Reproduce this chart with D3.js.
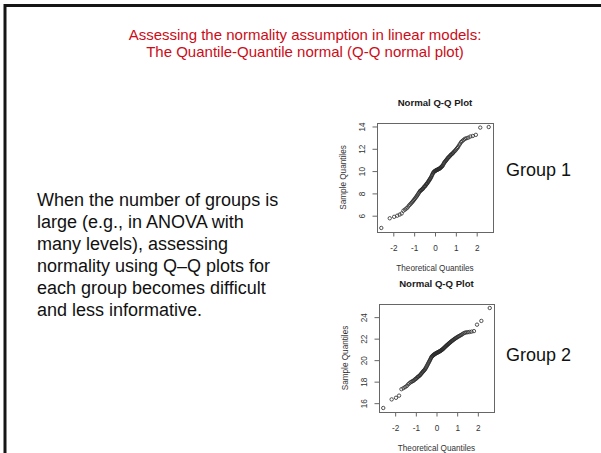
<!DOCTYPE html>
<html>
<head>
<meta charset="utf-8">
<script src="https://cdn.jsdelivr.net/npm/d3@7"></script>
<style>
  html, body { margin: 0; padding: 0; background: #fff; }
  svg { display: block; font-family: "Liberation Sans", Arial, Helvetica, sans-serif; }
</style>
</head>
<body>
<svg id="slide" width="601" height="453"></svg>
<script>
// slide text
const titleLines = [
  'Assessing the normality assumption in linear models:',
  'The Quantile-Quantile normal (Q-Q normal plot)'
];
const bodyLines = [
  'When the number of groups is',
  'large (e.g., in ANOVA with',
  'many levels), assessing',
  'normality using Q\u2013Q plots for',
  'each group becomes difficult',
  'and less informative.'
];
const groupNames = ['Group 1', 'Group 2'];

// axis ticks
const theoreticalTicks = [-2, -1, 0, 1, 2];
const group1Ticks = [6, 8, 10, 12, 14];
const group2Ticks = [16, 18, 20, 22, 24];

// sorted sample values (n = 100)
const group1Sample = [
  4.9, 5.77, 5.9, 6.0, 6.1, 6.2, 6.45, 6.55, 6.65, 6.75,
  6.9, 7.0, 7.1, 7.2, 7.3, 7.4, 7.5, 7.6, 7.7, 7.8,
  7.9, 8.0, 8.1, 8.2, 8.25, 8.3, 8.35, 8.4, 8.45, 8.55,
  8.6, 8.65, 8.7, 8.8, 8.85, 8.9, 9.0, 9.05, 9.15, 9.2,
  9.3, 9.35, 9.45, 9.55, 9.65, 9.75, 9.85, 9.9, 9.95, 10.0,
  10.02, 10.05, 10.08, 10.1, 10.12, 10.15, 10.18, 10.2, 10.22, 10.25,
  10.3, 10.35, 10.4, 10.45, 10.5, 10.6, 10.7, 10.78, 10.85, 10.9,
  10.98, 11.05, 11.12, 11.2, 11.25, 11.3, 11.38, 11.45, 11.5, 11.55,
  11.62, 11.7, 11.78, 11.85, 11.95, 12.05, 12.15, 12.3, 12.45, 12.6,
  12.7, 12.8, 12.9, 12.95, 13.0, 13.1, 13.15, 13.25, 13.9, 13.95
];
const group2Sample = [
  15.55, 16.35, 16.5, 16.7, 17.3, 17.4, 17.5, 17.6, 17.75, 17.85,
  17.95, 18.0, 18.05, 18.1, 18.18, 18.25, 18.3, 18.38, 18.45, 18.5,
  18.55, 18.62, 18.7, 18.78, 18.85, 18.92, 19.0, 19.05, 19.12, 19.2,
  19.3, 19.4, 19.5, 19.6, 19.7, 19.8, 19.9, 20.0, 20.1, 20.2,
  20.3, 20.35, 20.4, 20.45, 20.5, 20.52, 20.55, 20.6, 20.62, 20.65,
  20.68, 20.7, 20.72, 20.75, 20.78, 20.8, 20.83, 20.86, 20.9, 20.93,
  20.97, 21.0, 21.05, 21.1, 21.15, 21.2, 21.25, 21.3, 21.35, 21.4,
  21.45, 21.5, 21.55, 21.6, 21.65, 21.7, 21.75, 21.8, 21.85, 21.9,
  21.95, 22.0, 22.05, 22.1, 22.15, 22.2, 22.25, 22.3, 22.35, 22.42,
  22.5, 22.55, 22.58, 22.6, 22.62, 22.65, 22.7, 23.3, 23.65, 24.85
];

// inverse normal CDF (Acklam), used for the theoretical quantiles like qqnorm
function qnorm(p) {
  const a = [-39.69683028665376, 220.9460984245205, -275.9285104469687, 138.3577518672690, -30.66479806614716, 2.506628277459239];
  const b = [-54.47609879822406, 161.5858368580409, -155.6989798598866, 66.80131188771972, -13.28068155288572];
  const c = [-0.007784894002430293, -0.3223964580411365, -2.400758277161838, -2.549732539343734, 4.374664141464968, 2.938163982698783];
  const d = [0.007784695709041462, 0.3224671290700398, 2.445134137142996, 3.754408661907416];
  const tail = q => (((((c[0]*q + c[1])*q + c[2])*q + c[3])*q + c[4])*q + c[5]) /
                    ((((d[0]*q + d[1])*q + d[2])*q + d[3])*q + 1);
  if (p < 0.02425) return tail(Math.sqrt(-2 * Math.log(p)));
  if (p > 1 - 0.02425) return -tail(Math.sqrt(-2 * Math.log(1 - p)));
  const q = p - 0.5, r = q * q;
  return (((((a[0]*r + a[1])*r + a[2])*r + a[3])*r + a[4])*r + a[5]) * q /
         (((((b[0]*r + b[1])*r + b[2])*r + b[3])*r + b[4])*r + 1);
}

// R-style range: data range extended by 4% on each side
function rRange(values) {
  const [lo, hi] = d3.extent(values);
  const pad = (hi - lo) * 0.04;
  return [lo - pad, hi + pad];
}

const svg = d3.select('#slide');
const font = '"Liberation Sans", Arial, Helvetica, sans-serif';

svg.append('rect').attr('width', 601).attr('height', 453).attr('fill', '#fff');

// slide frame (top and left edges visible)
svg.append('path')
  .attr('d', 'M5,453V5.5H601')
  .attr('fill', 'none')
  .attr('stroke', '#161616')
  .attr('stroke-width', 3);

svg.append('g').selectAll('text')
  .data(titleLines)
  .enter()
  .append('text')
  .attr('x', 305)
  .attr('y', (d, i) => 39.5 + i * 17.5)
  .attr('text-anchor', 'middle')
  .attr('font-size', 15)
  .attr('fill', '#cc0c17')
  .text(d => d);

svg.append('g').selectAll('text')
  .data(bodyLines)
  .enter()
  .append('text')
  .attr('x', 37)
  .attr('y', (d, i) => 206 + i * 22)
  .attr('font-size', 18)
  .attr('fill', '#111')
  .text(d => d);

const plots = [
  { sample: group1Sample, ticks: group1Ticks, left: 377, top: 123, width: 116, height: 109, labelY: 176 },
  { sample: group2Sample, ticks: group2Ticks, left: 379, top: 304, width: 115, height: 108, labelY: 361 }
];

plots.forEach((p, k) => {
  const n = p.sample.length;
  const theoretical = p.sample.map((v, i) => qnorm((i + 1 - 0.5) / n));

  const x = d3.scaleLinear().domain(rRange(theoretical)).range([0, p.width]);
  const y = d3.scaleLinear().domain(rRange(p.sample)).range([p.height, 0]);

  const g = svg.append('g')
    .attr('transform', `translate(${p.left},${p.top})`)
    .attr('font-family', font);

  const xAxis = g.append('g')
    .attr('transform', `translate(0,${p.height})`)
    .call(d3.axisBottom(x).tickValues(theoreticalTicks).tickSize(4.5).tickFormat(d => String(d)));
  xAxis.select('.domain').remove();
  xAxis.selectAll('line').attr('stroke', '#666');
  xAxis.selectAll('text')
    .attr('y', 19).attr('dy', 0)
    .attr('font-size', 8.2).attr('fill', '#333')
    .attr('font-family', font);

  const yAxis = g.append('g')
    .call(d3.axisLeft(y).tickValues(p.ticks).tickSize(4.5).tickFormat(d => String(d)));
  yAxis.select('.domain').remove();
  yAxis.selectAll('line').attr('stroke', '#666');
  yAxis.selectAll('text')
    .attr('x', 0).attr('y', -12).attr('dy', 0)
    .attr('transform', 'rotate(-90)')
    .attr('text-anchor', 'middle')
    .attr('font-size', 8.2).attr('fill', '#333')
    .attr('font-family', font);

  g.append('rect')
    .attr('x', 0.5).attr('y', 0.5)
    .attr('width', p.width).attr('height', p.height)
    .attr('fill', 'none')
    .attr('stroke', '#666')
    .attr('stroke-width', 1);

  g.selectAll('circle')
    .data(p.sample)
    .enter()
    .append('circle')
    .attr('cx', (d, i) => x(theoretical[i]))
    .attr('cy', d => y(d))
    .attr('r', 1.7)
    .attr('fill', 'none')
    .attr('stroke', '#2a2a2a')
    .attr('stroke-width', 0.8);

  g.append('text')
    .attr('x', p.width / 2).attr('y', -17)
    .attr('text-anchor', 'middle')
    .attr('font-size', 9.6).attr('font-weight', 'bold')
    .attr('fill', '#1a1a1a')
    .text('Normal Q-Q Plot');

  g.append('text')
    .attr('x', p.width / 2).attr('y', p.height + 38.5)
    .attr('text-anchor', 'middle')
    .attr('font-size', 8.2).attr('fill', '#333')
    .text('Theoretical Quantiles');

  g.append('text')
    .attr('transform', `translate(-31,${p.height / 2}) rotate(-90)`)
    .attr('text-anchor', 'middle')
    .attr('font-size', 8.2).attr('fill', '#333')
    .text('Sample Quantiles');

  svg.append('text')
    .attr('x', 506).attr('y', p.labelY)
    .attr('font-size', 18).attr('fill', '#111')
    .text(groupNames[k]);
});
</script>
</body>
</html>
